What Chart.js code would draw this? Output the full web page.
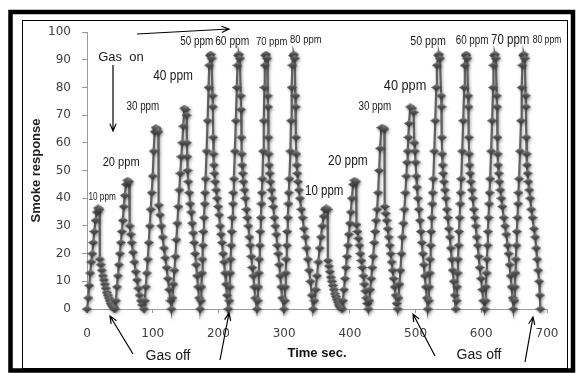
<!DOCTYPE html>
<html>
<head>
<meta charset="utf-8">
<script src="https://cdn.jsdelivr.net/npm/chart.js@4.4.1/dist/chart.umd.min.js"></script>
<style>
  html, body { margin: 0; padding: 0; background: #fff; }
  #wrap { width: 576px; height: 373px; }
</style>
</head>
<body>
<div id="wrap"><canvas id="smokeChart" width="576" height="373"></canvas></div>
<script>
// [time (s), smoke response], first run 10 -> 80 ppm
const cycleOne = [
  // 10 ppm
  [0,0],[2,4],[3.5,8.5],[5,13],[6.5,17],[8,20],[9.5,24],[11,28],[13,32],[15,35],[17,36.5],[19,36],[19.5,18],[21,16],[22.5,14],[24,12],[25.5,10.5],[27,9],[28.5,7.5],[30,6],[31.5,5],[33,4],[34.5,3],[36,2],[37.5,1.5],[39,1],[40.5,0.5],[42,0],
  // 20 ppm
  [44,3],[45.5,8],[47,12],[48.5,16],[50,20],[51.5,24],[53,28],[54.5,32],[56,37],[57.5,41],[59.5,45],[61.5,46.5],[64,46],[65,30],[66.5,27],[68,24],[70,20.5],[72,17],[74,13.5],[76,10.5],[78,7.5],[80,5],[82,3],[84,1.5],[86.5,0],
  // 30 ppm
  [88,3],[89.5,8],[91,13],[92.5,18],[94,24],[95.5,30],[97,36],[98.5,42],[100,48],[101.5,57],[103,64],[104.5,65.5],[106.5,65],[108.5,64],[109,37.5],[111,34],[113,30],[115,26],[117,22],[119,18.5],[121,15],[123,11],[125,7],[127,3],[128.5,0],
  // 40 ppm
  [130,4],[131.5,9],[133,14],[134.5,19],[136,25],[137.5,31],[139,37],[140.5,43],[142,49],[143.5,55],[145,60],[146.5,66],[148,72.5],[150,72],[151.5,70],[152,60],[152.5,55],[153,50],[154,46],[155.5,42],[157,38],[158.5,35],[160,31],[161.5,27.5],[163,24],[164.5,20],[166,16],[167.5,12],[169,8],[170.5,4],[172,0],
  // 50 ppm
  [173.5,3],[174,8],[175,13],[175.5,18],[176.5,23],[177,28],[178,33],[179,38],[179.5,42],[180.5,47],[182,57],[183.5,68],[185,80],[186,88],[187,91.5],[188,92],[189.5,90.5],[191,77],[191.5,73],[192,62],[192.5,56],[193,52],[194,49],[195,46],[196.5,43],[198,40],[199.5,37],[201,34],[202.5,30],[204,27],[205.5,24],[207,20],[208.5,17],[210,13],[211.5,9],[213,5],[215,0],
  // 60 ppm
  [216.5,3],[217,8],[218,13],[218.5,18],[219.5,23],[220,28],[221,33],[222,38],[222.5,42],[223.5,47],[225,57],[226.5,68],[228,80],[229,88],[230,91.5],[231,92],[232.5,90.5],[234,77],[234.5,72],[235,62],[235.5,56],[236,52],[237,49],[238,46],[239.5,43],[241,40],[242.5,36],[244,33],[245.5,30],[247,26],[248.5,23],[250,19],[251.5,15],[253,12],[254.5,8],[256,4],[258.5,0],
  // 70 ppm
  [260,3],[260.5,8],[261.5,13],[262,18],[263,23],[263.5,28],[264.5,33],[265.5,38],[266,42],[267,47],[268,57],[269,68],[270,80],[270.5,88],[271.5,91.5],[272.5,92],[274,90.5],[275,77],[275.5,73],[276,62],[276.5,56],[277,52],[278,49],[279,46],[280.5,43],[282,40],[283.5,37],[285,33],[286.5,30],[288,27],[289.5,23],[291,20],[292.5,16],[294,12],[295.5,8],[297,4],[299.5,0],
  // 80 ppm
  [301,3],[301.5,8],[302.5,13],[303,18],[304,23],[304.5,28],[305.5,33],[306.5,38],[307,42],[308,47],[309.5,57],[310.5,68],[311.5,80],[312.5,88],[313.5,91.5],[314.5,92],[316,90.5],[317,77],[317.5,73],[318,62],[318.5,56],[319,52],[320,49],[321,46],[322.5,43],[324,40],[326,36],[328,33],[330,29],[332,26],[334,22],[336,18],[338,14],[340,10],[342,5],[344,0]
];

// second run 10 -> 80 ppm
const cycleTwo = [
  // 10 ppm
  [346,3],[348,7],[350,12],[352,17],[354,22],[356,26],[358,30],[360,33.5],[362,36],[364,36.5],[366,36],[366.5,17.5],[368,15.5],[369.5,13.5],[371,11.5],[372.5,10],[374,8.5],[375.5,7],[377,5.5],[378.5,4.5],[380,3.5],[381.5,2.5],[383,1.5],[384.5,1],[386,0.5],[388,0],
  // 20 ppm
  [389.5,3],[391,7],[392.5,11],[394,15],[395.5,19],[397,23],[398.5,27],[400,31],[401.5,35],[403,40],[405,45],[407,46.5],[409.5,46],[410,30.5],[411.5,28],[413,25.5],[414.5,23],[416,20],[417.5,17.5],[419,15],[420.5,12],[422,9],[423.5,6.5],[425,4],[426.5,2],[428,0],
  // 30 ppm
  [429.5,3],[431,7],[432.5,11],[434,15],[435.5,19],[437,24],[438.5,28],[440,32],[441.5,36],[443,42],[444.5,50],[446,58],[448,65.5],[450,65.5],[452.5,65],[453,37],[454.5,34.5],[456,32],[457.5,29],[459,26],[460.5,23],[462,20],[463.5,17],[465,14],[466.5,11],[468,8],[469.5,5],[471,2],[472.5,0],
  // 40 ppm
  [474,4],[475.5,9],[477,14],[478.5,20],[480,26],[481.5,31],[483,36],[484.5,42],[486,48],[487,53],[488,57],[489,62],[490,67],[492,73],[494.5,72.5],[497,71],[498,60],[499,57],[500,53],[501,48],[502,44],[503.5,40],[505,36],[506.5,32],[508,28],[509.5,24],[511,20],[512.5,16],[514,12],[515.5,8],[517,4],[518.5,0],
  // 50 ppm
  [520,3],[520.5,8],[521.5,13],[522,18],[523,23],[523.5,28],[524.5,33],[525.5,38],[526,42],[527,47],[528.5,57],[530,68],[531.5,80],[532.5,88],[534.5,91.5],[535.5,92],[537,90.5],[539,77],[539.5,73],[540,62],[540.5,56],[541,52],[542,49],[543,46],[544.5,43],[546,40],[547.5,36],[549,33],[550.5,29],[552,26],[553.5,22],[555,18],[556.5,14],[558,10],[559.5,5],[561,0],
  // 60 ppm
  [562.5,3],[563,8],[564,13],[564.5,18],[565.5,23],[566,28],[567,33],[568,38],[568.5,42],[569.5,47],[571,57],[572.5,68],[574,80],[575,88],[576,91.5],[577,92],[578.5,90.5],[580,77],[580.5,73],[581,62],[581.5,56],[582,52],[583,49],[584,46],[585.5,43],[587,40],[588.5,36],[590,33],[591.5,30],[593,26],[594.5,23],[596,19],[597.5,15],[599.5,11],[601.5,7],[603,3],[605,0],
  // 70 ppm
  [606.5,3],[607,8],[608,13],[608.5,18],[609.5,23],[610,28],[611,33],[612,38],[612.5,42],[613.5,47],[615,57],[616.5,68],[618,80],[618.5,88],[619.5,91.5],[620.5,92],[622,90.5],[623.5,77],[624,73],[624.5,62],[625,56],[625.5,52],[626.5,49],[627.5,46],[629,43],[630.5,40],[632,37],[634,33],[636,30],[638,27],[640,23],[641.5,20],[643,16],[644.5,12],[646,8],[647.5,4],[649,0],
  // 80 ppm
  [650.5,3],[651,8],[652,13],[652.5,18],[653.5,23],[654,28],[655,33],[656,38],[656.5,42],[657.5,47],[659,57],[660.5,68],[661.5,80],[662.5,88],[663.5,91.5],[664.5,92],[666,90.5],[667.5,77],[668,73],[668.5,62],[669,56],[669.5,52],[670.5,49],[671.5,46],[673,43],[674.5,40],[676,36],[678,33],[680,29],[682,26],[683.5,22],[685,18],[686.5,14],[688,10],[689,5],[690,0]
];

// concentration labels: text, time, response level, font size
const ppmNotes = [
  ['10 ppm', 23, 40.5, 10], ['20 ppm', 52, 53, 13.5], ['30 ppm', 85, 73, 12], ['40 ppm', 131, 84, 14.5],
  ['50 ppm', 167, 96.5, 12], ['60 ppm', 221, 96.5, 12.5], ['70 ppm', 281, 96.5, 11.5], ['80 ppm', 333, 97, 11.5],
  ['10 ppm', 361, 42.5, 14], ['20 ppm', 397, 53.5, 14.5], ['30 ppm', 438, 73, 12], ['40 ppm', 484, 80.5, 15.5],
  ['50 ppm', 519, 96.5, 13], ['60 ppm', 586, 97, 12], ['70 ppm', 644, 97, 14], ['80 ppm', 700, 97, 10.5]
];

// flat shaded diamond like the excel marker
function makeMarker() {
  const m = document.createElement('canvas');
  m.width = 10;
  m.height = 7;
  const c = m.getContext('2d');
  const g = c.createLinearGradient(0, 0, 0, 7);
  g.addColorStop(0, '#8a8a8a');
  g.addColorStop(0.5, '#4e4e4e');
  g.addColorStop(1, '#3a3a3a');
  c.fillStyle = g;
  c.beginPath();
  c.moveTo(0, 3.5);
  c.lineTo(5, 0);
  c.lineTo(10, 3.5);
  c.lineTo(5, 7);
  c.closePath();
  c.fill();
  return m;
}

function arrow(c, x1, y1, x2, y2) {
  const a = Math.atan2(y2 - y1, x2 - x1);
  const h = 8;
  c.beginPath();
  c.moveTo(x1, y1);
  c.lineTo(x2, y2);
  c.moveTo(x2 - h * Math.cos(a - 0.4), y2 - h * Math.sin(a - 0.4));
  c.lineTo(x2, y2);
  c.lineTo(x2 - h * Math.cos(a + 0.4), y2 - h * Math.sin(a + 0.4));
  c.stroke();
}

const framePlugin = {
  id: 'frame',
  beforeDraw(chart) {
    const c = chart.ctx;
    c.save();
    c.fillStyle = '#fff';
    c.fillRect(0, 0, chart.width, chart.height);
    c.restore();
  },
  beforeDatasetsDraw(chart) {
    const c = chart.ctx;
    c.save();
    c.shadowColor = 'rgba(0,0,0,0.35)';
    c.shadowBlur = 3;
    c.shadowOffsetX = 1;
    c.shadowOffsetY = 1.5;
  },
  afterDatasetsDraw(chart) {
    chart.ctx.restore();
  },
  afterDraw(chart) {
    const c = chart.ctx;
    const xs = chart.scales.x, ys = chart.scales.y;
    c.save();
    // frames
    c.strokeStyle = '#000';
    c.lineWidth = 4.5;
    c.strokeRect(10.5, 12, 562.5, 358.5);
    c.lineWidth = 1;
    c.strokeRect(22.5, 20.5, 545, 348);

    // ppm labels
    c.fillStyle = '#1a1a1a';
    c.textAlign = 'center';
    c.textBaseline = 'middle';
    ppmNotes.forEach(n => {
      c.save();
      c.translate(xs.getPixelForValue(n[1]), ys.getPixelForValue(n[2]));
      c.scale(0.82, 1);
      c.font = n[3] + 'px "Liberation Sans", Arial, sans-serif';
      c.fillText(n[0], 0, 0);
      c.restore();
    });

    // gas on / off notes
    c.font = '13px "Liberation Sans", Arial, sans-serif';
    c.fillText('Gas  on', 121, 57);
    c.font = '14px "Liberation Sans", Arial, sans-serif';
    c.fillText('Gas off', 168, 356);
    c.fillText('Gas off', 479, 355);

    c.strokeStyle = '#000';
    c.lineWidth = 1.2;
    arrow(c, 137, 34, 229, 29);
    arrow(c, 113, 65, 113, 131);
    arrow(c, 133, 354, 110, 316);
    arrow(c, 220, 360, 229, 313);
    arrow(c, 435, 356, 413, 314);
    arrow(c, 525, 362, 533, 317);
    c.restore();
  }
};

const toPoints = arr => arr.map(p => ({ x: p[0], y: p[1] }));

const tickFont = { family: '"DejaVu Sans", Verdana, sans-serif', size: 12 };
const titleFont = { family: '"Liberation Sans", Arial, sans-serif', size: 13, weight: 'bold' };

new Chart(document.getElementById('smokeChart').getContext('2d'), {
  type: 'scatter',
  data: {
    datasets: [{
      label: 'Smoke response',
      data: toPoints(cycleOne.concat(cycleTwo)),
      showLine: true,
      clip: false,
      borderColor: '#606060',
      borderWidth: 2.2,
      pointStyle: makeMarker(),
      pointRadius: 4
    }]
  },
  options: {
    responsive: false,
    animation: false,
    layout: { padding: { left: 22, top: 32, right: 29, bottom: 0 } },
    plugins: { legend: { display: false }, tooltip: { enabled: false } },
    scales: {
      x: {
        type: 'linear',
        min: 0,
        max: 700,
        afterFit: s => { s.height = 64; },
        ticks: { stepSize: 100, font: tickFont, color: '#404040', padding: 14, maxRotation: 0 },
        grid: { drawOnChartArea: false, tickLength: 4, color: '#9a9a9a' },
        border: { color: '#9a9a9a' },
        title: { display: true, text: 'Time sec.', font: titleFont, color: '#111', padding: { top: 0, bottom: 12 } }
      },
      y: {
        min: 0,
        max: 100,
        afterFit: s => { s.width = 65; },
        ticks: { stepSize: 10, font: tickFont, color: '#404040', padding: 11 },
        grid: { drawOnChartArea: false, tickLength: 5, color: '#9a9a9a' },
        border: { color: '#9a9a9a' },
        title: { display: true, text: 'Smoke response', font: titleFont, color: '#222', padding: { top: 7, bottom: 0 } }
      }
    }
  },
  plugins: [framePlugin]
});
</script>
</body>
</html>
